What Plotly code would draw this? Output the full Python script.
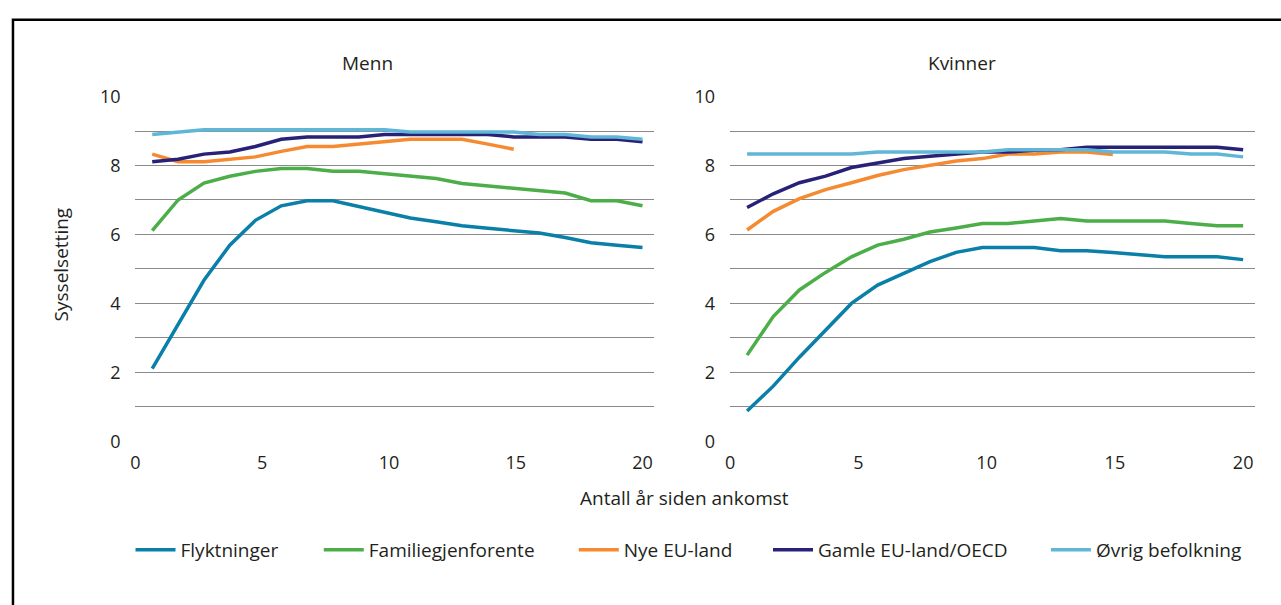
import plotly.graph_objects as go

W, H = 1281, 605

# x positions of the 20 observations (years since arrival)
years = [0.66, 1.68, 2.7, 3.72, 4.73, 5.75, 6.77, 7.79, 8.81, 9.83,
         10.84, 11.86, 12.88, 13.9, 14.92, 15.93, 16.95, 17.97, 18.99, 20.0]

series_names = ["Flyktninger", "Familiegjenforente", "Nye EU-land",
                "Gamle EU-land/OECD", "Øvrig befolkning"]
series_colors = ["#0a7fa8", "#4bae48", "#f58a30", "#272277", "#60b6d6"]

# Menn
menn_flykt = [2.11, 3.41, 4.67, 5.69, 6.41, 6.83, 6.98, 6.98, 6.81, 6.64,
              6.48, 6.37, 6.25, 6.18, 6.11, 6.04, 5.91, 5.76, 5.69, 5.62]
menn_fam = [6.11, 7.0, 7.49, 7.69, 7.83, 7.91, 7.91, 7.83, 7.83, 7.76,
            7.69, 7.62, 7.48, 7.41, 7.34, 7.27, 7.2, 6.98, 6.98, 6.83]
menn_nye = [8.33, 8.11, 8.11, 8.18, 8.25, 8.41, 8.55, 8.55, 8.62, 8.69,
            8.76, 8.76, 8.76, 8.62, 8.47]
menn_gamle = [8.11, 8.18, 8.33, 8.39, 8.55, 8.76, 8.83, 8.83, 8.83, 8.9,
              8.9, 8.9, 8.9, 8.9, 8.83, 8.83, 8.83, 8.76, 8.76, 8.69]
menn_ovrig = [8.9, 8.97, 9.04, 9.04, 9.04, 9.04, 9.04, 9.04, 9.04, 9.04,
              8.97, 8.97, 8.97, 8.97, 8.97, 8.9, 8.9, 8.83, 8.83, 8.76]

# Kvinner
kvinner_flykt = [0.88, 1.6, 2.44, 3.21, 4.0, 4.53, 4.88, 5.21, 5.48, 5.62,
                 5.62, 5.62, 5.53, 5.53, 5.48, 5.41, 5.35, 5.35, 5.35, 5.27]
kvinner_fam = [2.5, 3.62, 4.39, 4.9, 5.35, 5.69, 5.86, 6.07, 6.19, 6.32,
               6.32, 6.39, 6.46, 6.39, 6.39, 6.39, 6.39, 6.32, 6.25, 6.25]
kvinner_nye = [6.13, 6.67, 7.04, 7.3, 7.5, 7.71, 7.88, 8.0, 8.13, 8.2,
               8.33, 8.33, 8.39, 8.39, 8.32]
kvinner_gamle = [6.78, 7.18, 7.5, 7.69, 7.94, 8.07, 8.2, 8.27, 8.33, 8.39,
                 8.39, 8.44, 8.46, 8.53, 8.53, 8.53, 8.53, 8.53, 8.53, 8.46]
kvinner_ovrig = [8.33, 8.33, 8.33, 8.33, 8.33, 8.39, 8.39, 8.39, 8.39, 8.39,
                 8.46, 8.46, 8.46, 8.46, 8.39, 8.39, 8.39, 8.33, 8.33, 8.25]

menn = [menn_flykt, menn_fam, menn_nye, menn_gamle, menn_ovrig]
kvinner = [kvinner_flykt, kvinner_fam, kvinner_nye, kvinner_gamle, kvinner_ovrig]

x_ticks = [0, 5, 10, 15, 20]
y_ticks = [0, 2, 4, 6, 8, 10]

FONT = "Open Sans"
TXT = "#231f20"

# left edge (px) of each legend entry's text
legend_text_left = [181, 370, 626, 821, 1100]


def px(x):
    return x / W


def py(y):
    return 1 - y / H


fig = go.Figure()

for i in range(5):
    lg = "legend" if i == 0 else "legend%d" % (i + 1)
    fig.add_trace(go.Scatter(x=years[:len(menn[i])], y=menn[i], mode="lines",
                             name=series_names[i], legendgroup=series_names[i],
                             legend=lg,
                             line=dict(color=series_colors[i], width=3.5),
                             xaxis="x", yaxis="y"))
for i in range(5):
    fig.add_trace(go.Scatter(x=years[:len(kvinner[i])], y=kvinner[i], mode="lines",
                             name=series_names[i], legendgroup=series_names[i],
                             showlegend=False,
                             line=dict(color=series_colors[i], width=3.5),
                             xaxis="x2", yaxis="y2"))

xcommon = dict(range=[0, 20.45], tickvals=x_ticks, showgrid=False, zeroline=False,
               showline=False, ticks="", ticklabelstandoff=9,
               tickfont=dict(size=18, color=TXT, family=FONT),
               fixedrange=True)
ycommon = dict(range=[0, 10], tickvals=y_ticks, showgrid=True,
               gridcolor="#8a8a8a", gridwidth=1.3, zeroline=False, showline=False,
               ticks="", ticklabelstandoff=14,
               tickfont=dict(size=18, color=TXT, family=FONT),
               minor=dict(showgrid=True, dtick=1, gridcolor="#8a8a8a", gridwidth=1.3),
               fixedrange=True)

layout_legends = {}
for i in range(5):
    key = "legend" if i == 0 else "legend%d" % (i + 1)
    layout_legends[key] = dict(x=px(legend_text_left[i] - 55), xanchor="left",
                               y=py(559), yanchor="middle", itemwidth=40,
                               font=dict(size=19, color=TXT, family=FONT),
                               bgcolor="rgba(0,0,0,0)")

fig.update_layout(
    width=W, height=H,
    margin=dict(l=0, r=0, t=0, b=0),
    paper_bgcolor="white", plot_bgcolor="white",
    font=dict(family=FONT, color=TXT, size=18),
    xaxis=dict(domain=[px(131), px(131 + 20.45 * 25.45)], anchor="y", **xcommon),
    yaxis=dict(domain=[py(446), py(87)], anchor="x", **ycommon),
    xaxis2=dict(domain=[px(728), px(728 + 20.45 * 25.75)], anchor="y2", **xcommon),
    yaxis2=dict(domain=[py(446), py(87)], anchor="x2", **ycommon),
    showlegend=True,
    **layout_legends,
)

annots = [
    dict(text="Menn", x=px(364), y=py(52)),
    dict(text="Kvinner", x=px(961), y=py(52)),
    dict(text="Antall år siden ankomst", x=px(682), y=py(505)),
    dict(text="Sysselsetting", x=px(56), y=py(262), textangle=-90),
]
for a in annots:
    fig.add_annotation(xref="paper", yref="paper", showarrow=False,
                       xanchor="center", yanchor="middle",
                       font=dict(size=19, color=TXT, family=FONT), **a)

# black frame around the figure
fig.add_shape(type="rect", xref="paper", yref="paper",
              x0=px(8), y0=py(620), x1=px(1300), y1=py(7),
              line=dict(color="black", width=2.5))

# pin the plot to the top-left corner of the page
pin = """
document.body.style.margin = '0';
document.body.style.overflow = 'hidden';
var gd = document.getElementsByClassName('plotly-graph-div')[0];
gd.style.position = 'fixed';
gd.style.top = '0';
gd.style.left = '0';
"""
fig.write_html("out.html", config={"displayModeBar": False}, post_script=pin)
